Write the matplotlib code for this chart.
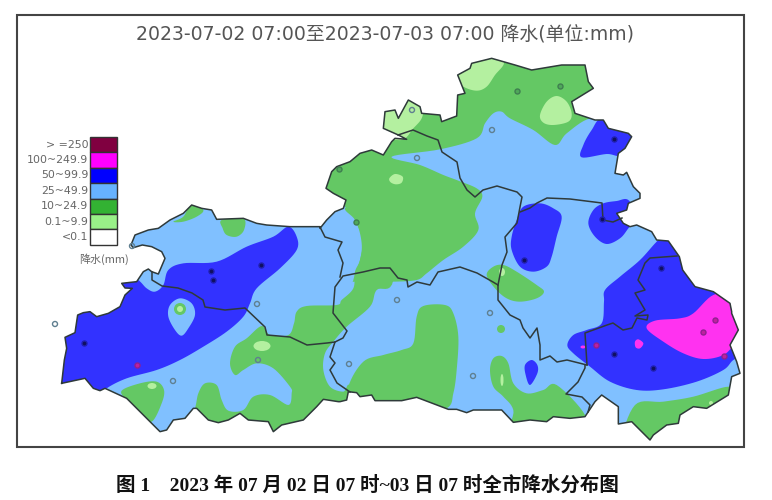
import numpy as np
import matplotlib
matplotlib.use("Agg")
import matplotlib.pyplot as plt
from matplotlib.patches import Polygon, Rectangle, Ellipse

# ---------- text ----------
title = "2023-07-02 07:00至2023-07-03 07:00 降水(单位:mm)"
caption = "图 1    2023 年 07 月 02 日 07 时~03 日 07 时全市降水分布图"
legend_labels = [">=250", "100~249.9", "50~99.9", "25~49.9", "10~24.9", "0.1~9.9", "<0.1"]
legend_colors = ["#800040", "#FF00FF", "#0000FF", "#66B2FF", "#33B233", "#99F088", "#FFFFFF"]
legend_unit = "降水(mm)"

C_LB, C_G, C_LG, C_B, C_M = "#80C0FF", "#64C864", "#B4F0A0", "#3232FF", "#FF32F0"

# ---------- boundary, traced in 3x crops (crop origin, points) ----------
outline_parts = [
 ((55, 200), [(20,550),(28,480),(35,445),(30,412),(60,398),(68,345),(85,338),(105,335),(125,350),(160,340),(195,320),
              (210,285),(232,265),(210,264),(200,250),(245,245),(265,215),(280,207),(290,215),(310,222),(330,175),
              (320,155),(290,140),(262,135),(235,143),(228,135),(240,105),(280,90),(310,85),(345,60),(385,40),(410,15),
              (440,25),(470,30)]),
 ((40, 200), [(530,58),(610,55),(650,70),(680,75),(750,80),(840,80)]),
 ((320, 140), [(0,265),(20,240),(45,215),(70,205),(78,180),(40,160),(18,145),(35,95),(50,80),(90,65),(120,40),(155,30),(190,45),(215,5)]),
 ((375, 50), [(60,265),(95,268),(70,255),(25,235),(30,185),(60,180),(70,205),(100,150),(135,170),(140,190),(195,195),(200,215),
              (245,198),(248,135),(270,130),(248,75),(285,55),(290,40),(350,25),(420,45),(470,60),(560,45),(630,45),(640,95),
              (655,115),(590,155),(600,190),(660,210)]),
 ((590, 115), [(40,15),(55,40),(115,55),(125,65),(105,100),(85,115),(75,175),(100,180),(110,172),(130,215),(150,235),(150,250),
               (115,265),(110,285),(80,295),(100,325),(120,335),(140,330),(185,350),(200,375),(235,378),(268,425),(278,465),
               (315,515),(370,530),(420,565),(425,590)]),
 ((560, 300), [(515,40),(535,90),(510,135),(530,185),(540,220),(515,230),(505,285),(440,325),(400,320),(360,345),(355,370),
               (320,375),(280,405),(270,420),(225,375),(215,365),(175,372),(175,320),(125,285),(105,305),(75,350)]),
 ((340, 380), [(690,115),(640,110),(620,125),(570,120),(520,127),(485,90),(400,90),(380,98),(350,88),(325,88),(230,52),(185,62),
               (105,62),(95,45),(60,50),(50,38),(25,35),(20,60),(0,65)]),
 ((85, 370), [(760,95),(715,88),(695,110),(680,125),(655,150),(590,165),(565,185),(550,155),(490,150),(465,130),(430,150),
              (400,158),(370,150),(335,115),(325,115),(300,145),(265,150),(245,180),(225,185),(195,155),(125,85),(60,55),
              (45,62),(25,55),(0,25)]),
]
# inner district borders, image pixels
border_a = [(152,272),(152,280),(162,286),(178,288),(192,293),(203,300),(205,307),(225,310),(245,308),(265,327),
 (267,335),(290,337),(307,345),(327,343),(335,342),(343,338),(347,331),(333,313),(335,287),(343,276),(363,272),(380,268),
 (390,268),(398,278),(407,280),(408,287),(417,282),(430,285),(438,272),(460,267),(477,273),(493,282),(498,285),
 (498,300),(510,315),(520,320),(523,328),(530,338),(537,328),(540,345),(540,360),(550,356),(557,362),(567,360),(587,365)]
border_b = [(320,227),(325,237),(342,242),(338,250),(343,263),(340,277)]
border_c = [(335,342),(330,357),(335,363),(330,370),(337,383),(350,392)]
border_e = [(398,135),(413,130),(427,136),(438,140),(442,152),(457,162),(460,178),(467,190),(475,197),(483,190),
 (497,186),(517,192),(522,197),(520,207),(517,223),(505,237),(507,252),(502,265),(498,285)]
border_f = [(520,212),(530,208),(537,203),(547,198),(570,199),(602,203),(603,220),(613,222),(622,218)]
border_g = [(587,365),(585,333),(607,325),(613,323),(623,330),(632,328),(637,318),(647,320),(648,315),(635,316),(645,310),(635,293),(645,290),
 (638,280),(645,263),(650,258),(677,256)]
border_h = [(585,365),(585,368),(578,382),(566,394),(582,397),(590,405),(588,412)]
borders = [border_a, border_b, border_c, border_e, border_f, border_g, border_h]

# ---------- rainfall areas (colour, crop origin, points) ----------
O2, O3, O4 = (40, 200), (320, 50), (330, 230)
areas = [
 (C_G, O2, [(665,378),(690,405),(745,405),(762,370),(770,335),(800,318),(890,315),(905,300),(940,265),(945,215),(960,180),
  (968,120),(945,60),(920,20),(1060,0),(1060,240),(1010,270),(990,320),(920,380),(880,425),(855,460),(850,510),(870,560),
  (910,575),(930,560),(960,700),(440,700),(465,625),(475,580),(495,550),(530,555),(545,600),(565,632),(610,630),(640,590),
  (690,585),(745,615),(755,580),(750,560),(700,505),(650,490),(610,510),(585,525),(570,490),(585,440),(620,415)]),
 (C_G, O2, [(400,65),(430,50),(455,10),(490,30),(470,50),(430,65)]),
 (C_G, O2, [(545,60),(610,55),(612,90),(590,110),(560,105),(548,85)]),
 (C_G, O2, [(245,572),(300,550),(350,545),(372,570),(365,610),(335,665),(300,640),(260,600)]),
 (C_B, O2, [(745,80),(770,110),(770,150),(720,205),(650,265),(630,310),(610,350),(560,395),(490,440),(420,480),(350,510),
  (260,535),(200,565),(180,590),(50,620),(0,300),(240,200),(295,240),(320,265),(345,275),(370,255),(385,210),(430,190),
  (530,185),(620,140),(700,110)]),
 (C_LB, O2, [(420,295),(455,310),(465,345),(445,385),(425,407),(405,390),(385,350),(390,315)]),
 (C_G, O3, [(150,250),(150,0),(900,0),(900,205),(810,205),(740,250),(705,285),(640,240),(570,205),(545,185),(520,190),
  (495,220),(470,265),(360,298),(215,320),(300,345),(370,375),(415,392),(470,415),(487,440),(465,490),(475,540),(430,590),
  (370,630),(320,670),(290,690),(220,695),(110,695),(100,690),(120,630),(125,580),(110,520),(75,470),(0,440),(0,300)]),
 (C_LG, O3, [(395,80),(450,30),(520,10),(552,38),(525,75),(500,110),(470,122),(430,110)]),
 (C_LG, O3, [(660,195),(680,155),(710,138),(740,155),(755,190),(745,215),(700,225),(670,218)]),
 (C_LG, O3, [(170,185),(235,150),(265,130),(305,175),(305,205),(280,235),(245,270),(180,250)]),
 (C_LG, O3, [(208,385),(225,372),(248,380),(245,398),(228,403),(212,397)]),
 (C_B, O3, [(785,322),(790,285),(815,240),(850,200),(950,190),(980,255),(910,315),(860,312)]),
 (C_B, O3, [(610,470),(660,460),(700,475),(725,500),(710,560),(695,620),(680,650),(640,665),(600,650),(575,600),(575,560),(590,510)]),
 (C_B, O3, [(805,520),(820,480),(850,460),(890,453),(925,450),(950,500),(925,535),(900,565),(860,582),(825,560)]),
 (C_G, O4, [(55,470),(100,395),(160,375),(215,360),(250,340),(260,260),(280,228),(345,225),(370,250),(385,320),(380,420),
  (370,490),(350,535),(250,560),(50,560)]),
 (C_B, O4, [(980,35),(1020,0),(1100,60),(1200,150),(1290,300),(1250,370),(1210,390),(1180,420),(1100,455),(1000,478),(920,480),
  (840,455),(780,410),(730,370),(712,345),(730,315),(770,300),(815,280),(822,215),(825,180),(870,140),(930,90)]),
 (C_M, O4, [(950,295),(975,272),(1050,265),(1090,250),(1150,195),(1210,200),(1290,300),(1220,340),(1180,375),(1120,387),(1060,370),(1000,335)]),
 (C_M, O4, [(915,335),(925,328),(940,340),(930,355),(917,352)]),
 (C_B, O4, [(605,390),(622,405),(622,430),(600,465),(587,435),(585,405)]),
 (C_G, O4, [(470,135),(490,110),(520,105),(560,125),(620,165),(642,185),(620,205),(570,215),(530,205),(495,175)]),
 (C_G, O4, [(480,420),(490,385),(515,378),(535,400),(550,460),(590,490),(640,480),(680,465),(765,555),(760,620),(555,620),(550,540),(520,500),(490,470)]),
 (C_G, O4, [(880,640),(915,525),(1000,515),(1090,500),(1195,470),(1210,500),(1100,620),(960,680)]),
]
# small round patches: colour, centre x, centre y, width, height
spots = [(C_G, 180, 309, 12, 12), (C_LG, 180, 309, 6, 6), (C_LG, 152, 386, 9, 6), (C_LG, 262, 346, 17, 10),
         (C_G, 501, 329, 8, 8), (C_LG, 502, 272, 6, 8), (C_LG, 502, 380, 3, 12), (C_M, 583, 347, 5, 3), (C_LG, 711, 403, 4, 4)]

# stations: x, y
st_hollow = [(55,324),(132,246),(257,304),(258,360),(173,381),(349,364),(417,158),(412,110),(492,130),(397,300),(490,313),(473,376)]
st_green = [(356,222),(339,169),(517,91),(560,86)]
st_navy = [(84,343),(211,271),(213,280),(261,265),(614,139),(524,260),(602,219),(661,268),(614,354),(653,368)]
st_purple = [(137,365),(596,345),(703,332),(715,320),(724,356)]


def smooth(pts, steps=8):
    """Closed Catmull-Rom curve through the traced points."""
    p = np.asarray(pts, float)
    p0, p1, p2, p3 = np.roll(p, 1, axis=0), p, np.roll(p, -1, axis=0), np.roll(p, -2, axis=0)
    out = []
    for t in np.arange(steps) / steps:
        out.append(0.5*((2*p1) + (p2-p0)*t + (2*p0-5*p1+4*p2-p3)*t**2 + (3*p1-p0-3*p2+p3)*t**3))
    return np.stack(out, axis=1).reshape(-1, 2)


outline = np.vstack([np.array(pts, float)/3 + o for o, pts in outline_parts])

fig = plt.figure(figsize=(7.72, 5.0), dpi=100, facecolor="white")
ax = fig.add_axes([0, 0, 1, 1])
ax.set_xlim(0, 772); ax.set_ylim(500, 0); ax.axis("off")

ax.add_patch(Rectangle((17, 15), 727, 432, fc="white", ec="#444444", lw=1.5, zorder=0))

base = Polygon(outline, closed=True, fc=C_LB, ec="none", zorder=1)
ax.add_patch(base)
for col, (ox, oy), pts in areas:
    xy = smooth(pts) / 3 + (ox, oy)
    pa = Polygon(xy, closed=True, fc=col, ec="none", zorder=2)
    ax.add_patch(pa); pa.set_clip_path(base)
for col, x, y, w, h in spots:
    pa = Ellipse((x, y), w, h, fc=col, ec="none", zorder=3)
    ax.add_patch(pa); pa.set_clip_path(base)

ol = np.vstack([outline, outline[:1]])
ax.plot(ol[:, 0], ol[:, 1], color="#2F3A3A", lw=1.1, zorder=5, solid_joinstyle="round")
for b in borders:
    b = np.array(b)
    ax.plot(b[:, 0], b[:, 1], color="#2F3A3A", lw=1.1, zorder=5, solid_joinstyle="round")

def stations(lst, fc, ec):
    a = np.array(lst)
    ax.scatter(a[:, 0], a[:, 1], s=13, facecolors=fc, edgecolors=ec, linewidths=1.0, zorder=6)
stations(st_hollow, "none", "#5F7F90")
stations(st_green, "#4FA85A", "#3F7F50")
stations(st_navy, "#101060", "#2020B0")
stations(st_purple, "#C020A0", "#902090")

# legend
top, cell = 137.0, 15.4
for i, (lab, col) in enumerate(zip(legend_labels, legend_colors)):
    ax.add_patch(Rectangle((90, top + i*cell), 27, cell, fc=col, ec="#333333", lw=1.0, zorder=4))
    ax.text(88.5, top + (i + .5)*cell, lab.replace(">=", "> ="), ha="right", va="center", fontsize=7.9, color="#666666",
            family=["DejaVu Sans", "Noto Sans CJK SC"])
ax.text(104, 259, legend_unit, ha="center", va="center", fontsize=7.9, color="#666666",
        family=["Noto Sans CJK SC", "DejaVu Sans"])

ax.text(384.5, 35, title, ha="center", va="center", fontsize=13.6, color="#555555",
        family=["DejaVu Sans", "Noto Sans CJK SC"])
ax.text(367.5, 485, caption, ha="center", va="center", fontsize=14, color="#111111", fontweight="bold",
        family=["Liberation Serif", "Noto Sans CJK SC"])

fig.savefig("out.png", dpi=100)
